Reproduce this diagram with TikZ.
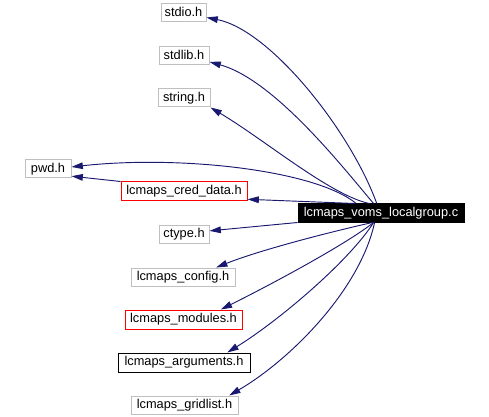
\documentclass[tikz,border=0pt]{standalone}
\usepackage{fontspec}
\setmainfont{Liberation Sans}
\usetikzlibrary{arrows.meta}
\definecolor{boxgray}{RGB}{191,191,191}
\definecolor{edgeblue}{RGB}{25,25,112}
\tikzset{
  box/.style={draw=boxgray, line width=0.75pt, inner sep=0pt, minimum height=18*0.75pt,
    font=\fontsize{9.6}{11}\selectfont, text height=7pt, text depth=2pt},
  redbox/.style={box, draw=red},
  blackbox/.style={box, draw=black},
  mainbox/.style={box, draw=black, fill=black, text=white},
  bw/.style={minimum width=#1*0.75pt},
  bh/.style={minimum height=#1*0.75pt},
  edge/.style={draw=edgeblue, line width=0.7pt, -{Triangle[length=8.5pt,width=5pt]}}
}
\begin{document}
\begin{tikzpicture}[x=0.75pt,y=-0.75pt]
\useasboundingbox (0,0) rectangle (489,417);
\node[box,bw=45] (stdio) at (183.5,13) {stdio.h};
\node[box,bw=50] (stdlib) at (184,56) {stdlib.h};
\node[box,bw=52] (string) at (184,98) {string.h};
\node[box,bw=46] (pwd) at (48,169) {pwd.h};
\node[redbox,bw=126,bh=19] (cred) at (184,191.5) {lcmaps\_cred\_data.h};
\node[box,bw=50] (ctype) at (184,234) {ctype.h};
\node[box,bw=104] (config) at (183,277) {lcmaps\_config.h};
\node[redbox,bw=117,bh=19] (modules) at (183.5,319.5) {lcmaps\_modules.h};
\node[blackbox,bw=132,bh=19] (arguments) at (184,362.5) {lcmaps\_arguments.h};
\node[box,bw=107] (gridlist) at (184.5,405) {lcmaps\_gridlist.h};
\node[mainbox,bw=166] (main) at (381,213) {lcmaps\_voms\_localgroup.c};

\draw[edge] (main.114) .. controls (350,130) and (270,30) .. (stdio.-11);
\draw[edge] (main.128) .. controls (345,170) and (275,80) .. (stdlib.-13);
\draw[edge] (main.141) .. controls (330,195) and (265,140) .. (string.south east);
\draw[edge] (main.159) .. controls (315,170) and (180,155) .. (pwd.5);
\draw[edge] (main.160) -- (cred.-7);
\draw[edge] (cred.north west) -- (pwd.-17);
\draw[edge] (main.south west) -- (ctype.7);
\draw[edge] (main.228) .. controls (330,232) and (260,250) .. (config.16);
\draw[edge] (main.232) .. controls (345,245) and (270,285) .. (modules.15);
\draw[edge] (main.232) .. controls (350,260) and (280,320) .. (arguments.13);
\draw[edge] (main.236) .. controls (360,290) and (290,360) .. (gridlist.12);
\end{tikzpicture}
\end{document}
